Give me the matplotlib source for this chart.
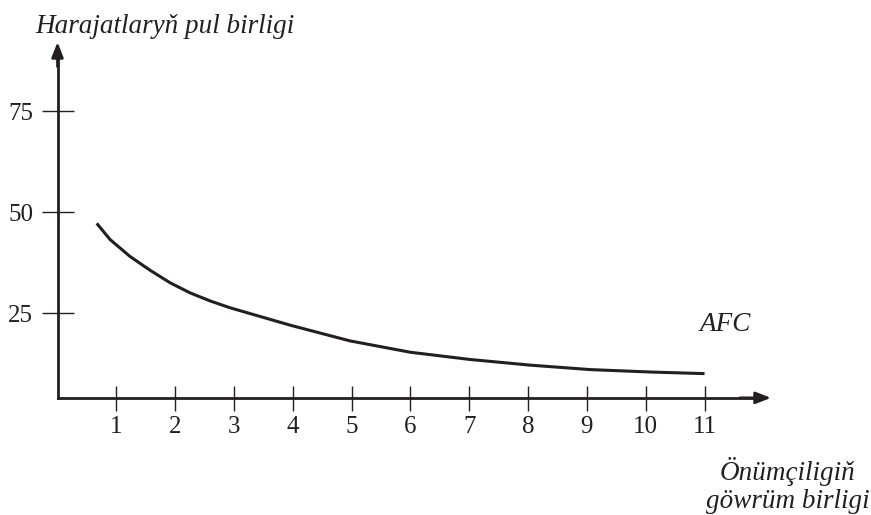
import matplotlib.pyplot as plt
import numpy as np

# AFC curve (output units, money units)
afc_x = [0.667, 0.893, 1.233, 1.573, 1.913, 2.253, 2.594, 2.934, 3.954,
         4.974, 5.995, 7.015, 8.036, 9.056, 10.077, 11.0]
afc_y = [47.2, 43.2, 39.0, 35.6, 32.5, 30.0, 28.0, 26.3, 22.0,
         18.1, 15.3, 13.5, 12.1, 11.0, 10.4, 10.0]

x_ticks = [1, 2, 3, 4, 5, 6, 7, 8, 9, 10, 11]
y_ticks = [25, 50, 75]

ink = '#231f20'
plt.rcParams['font.family'] = ['Liberation Serif', 'DejaVu Serif']

fig = plt.figure(figsize=(8.71, 5.15), dpi=100)
ax = fig.add_axes([0, 0, 1, 1])
ax.set_xlim(-0.978, 13.83)
ax.set_ylim(-25.0, 102.5)

# axes drawn through the origin of the sketch
ax.spines['top'].set_visible(False)
ax.spines['right'].set_visible(False)
ax.spines['left'].set_position(('data', 0))
ax.spines['bottom'].set_position(('data', 4))
ax.spines['left'].set_bounds(4, 90)
ax.spines['bottom'].set_bounds(0, 11.9)
for s in ('left', 'bottom'):
    ax.spines[s].set_linewidth(2.0)
    ax.spines[s].set_color(ink)

ax.annotate('', xy=(12.13, 4), xytext=(11.6, 4),
            arrowprops=dict(arrowstyle='-|>,head_length=0.9,head_width=0.35',
                            color=ink, lw=2.0, shrinkA=0, shrinkB=0))
ax.annotate('', xy=(0, 92.1), xytext=(0, 86),
            arrowprops=dict(arrowstyle='-|>,head_length=0.9,head_width=0.35',
                            color=ink, lw=2.0, shrinkA=0, shrinkB=0))

ax.set_xticks(x_ticks)
ax.set_xticklabels([str(t) for t in x_ticks])
ax.set_yticks(y_ticks)
ax.set_yticklabels([str(t) for t in y_ticks])
ax.tick_params(axis='x', direction='inout', length=18, width=1.0, colors=ink,
               labelsize=18, pad=4)
ax.tick_params(axis='y', direction='inout', length=23, width=1.0, colors=ink,
               labelsize=18, pad=6)

ax.plot(afc_x, afc_y, color=ink, lw=2.2, solid_capstyle='butt',
        solid_joinstyle='round')

ax.text(0.189, 0.948, 'Harajatlaryň pul birligi', transform=ax.transAxes,
        ha='center', va='center', style='italic', fontsize=19.5, color=ink)
ax.text(0.833, 0.369, 'AFC', transform=ax.transAxes,
        ha='center', va='center', style='italic', fontsize=19.5, color=ink)
ax.text(0.982, 0.085, 'Önümçiligiň', transform=ax.transAxes,
        ha='right', va='center', style='italic', fontsize=19.5, color=ink)
ax.text(0.998, 0.027, 'göwrüm birligi', transform=ax.transAxes,
        ha='right', va='center', style='italic', fontsize=19.5, color=ink)

fig.savefig('out.png', dpi=100)
